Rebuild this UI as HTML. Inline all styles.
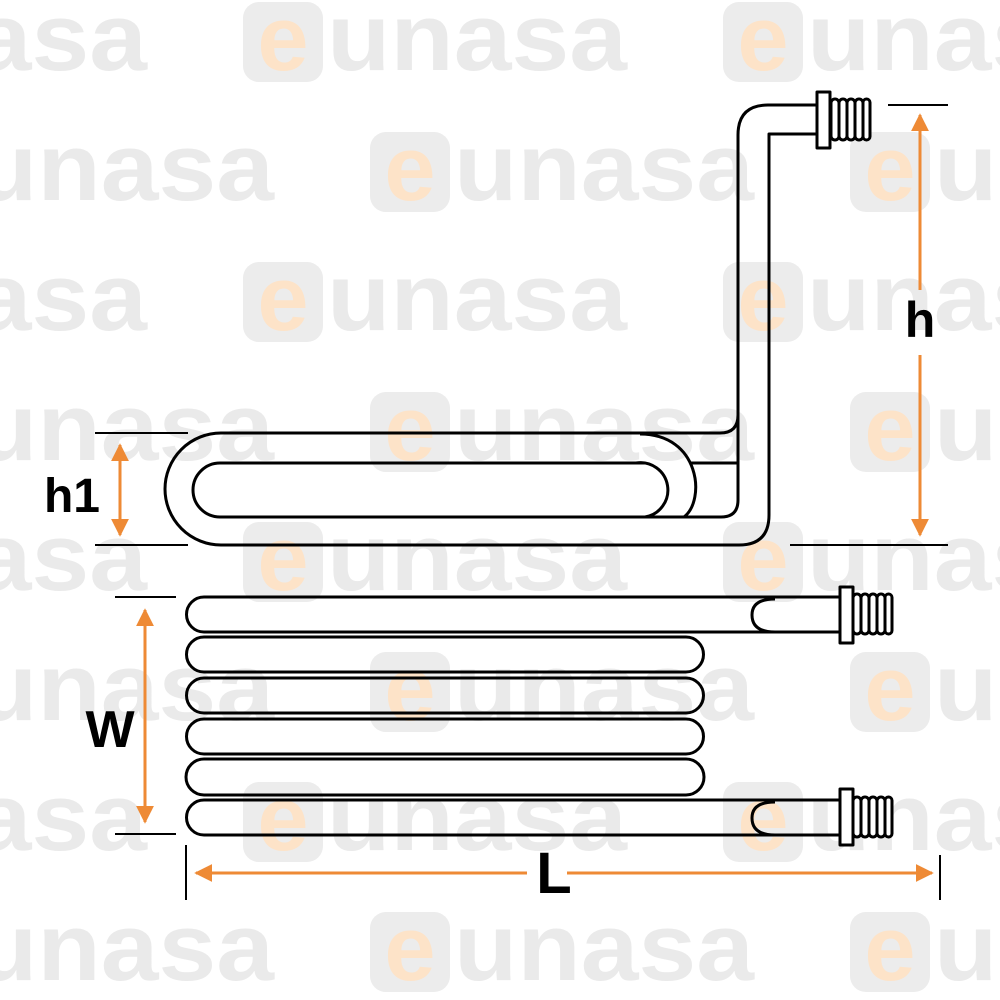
<!DOCTYPE html>
<html><head><meta charset="utf-8"><style>
html,body{margin:0;padding:0;background:#fff}
svg{display:block}
</style></head><body>
<svg width="1000" height="1000" viewBox="0 0 1000 1000" xmlns="http://www.w3.org/2000/svg">
<defs>
<g id="wm">
<rect x="0" y="0" width="80" height="80" rx="16" fill="#ececec"/>
<text x="40" y="68" text-anchor="middle" font-family="Liberation Sans, sans-serif" font-weight="bold" font-size="92" fill="#fde3c8">e</text>
<text x="84" y="68" font-family="Liberation Sans, sans-serif" font-weight="bold" font-size="96" fill="#eaeaea" textLength="300" lengthAdjust="spacingAndGlyphs">unasa</text>
</g>
<marker id="ar" viewBox="0 0 10 10" refX="9" refY="5" markerWidth="6" markerHeight="6" orient="auto-start-reverse"><path d="M0,0 L10,5 L0,10 z" fill="#ee8a35"/></marker>
</defs>
<g>
<use href="#wm" x="-237" y="2"/><use href="#wm" x="243" y="2"/><use href="#wm" x="723" y="2"/>
<use href="#wm" x="-110" y="132"/><use href="#wm" x="370" y="132"/><use href="#wm" x="850" y="132"/>
<use href="#wm" x="-237" y="262"/><use href="#wm" x="243" y="262"/><use href="#wm" x="723" y="262"/>
<use href="#wm" x="-110" y="392"/><use href="#wm" x="370" y="392"/><use href="#wm" x="850" y="392"/>
<use href="#wm" x="-237" y="522"/><use href="#wm" x="243" y="522"/><use href="#wm" x="723" y="522"/>
<use href="#wm" x="-110" y="652"/><use href="#wm" x="370" y="652"/><use href="#wm" x="850" y="652"/>
<use href="#wm" x="-237" y="782"/><use href="#wm" x="243" y="782"/><use href="#wm" x="723" y="782"/>
<use href="#wm" x="-110" y="912"/><use href="#wm" x="370" y="912"/><use href="#wm" x="850" y="912"/>
</g>

<g fill="none" stroke="#000" stroke-width="3" stroke-linejoin="round">
<path d="M818,105 H768 Q738,105 738,135 V500 Q738,517 721,517 H220"/>
<path d="M818,134 H769 V515 Q769,545 739,545 H221 A56,56 0 0 1 221,433 H720 Q738,433 738,415"/>
<path d="M645,463 H220 A27,27 0 0 0 220,517"/>
<path d="M636,463 A27,27 0 0 1 645,517"/>
<path d="M640,434 C700,434 706,500 684,517"/>
<path d="M690,463 H738"/>
<rect x="817" y="92" width="13" height="56" fill="#fff"/>
<rect x="831" y="99" width="8" height="41" rx="4" fill="#fff"/>
<rect x="839" y="99" width="8" height="41" rx="4" fill="#fff"/>
<rect x="847" y="99" width="8" height="41" rx="4" fill="#fff"/>
<rect x="855" y="99" width="8" height="41" rx="4" fill="#fff"/>
<rect x="863" y="99" width="7" height="41" rx="3.5" fill="#fff"/>

<path d="M840,597 H204 A17.5,17.5 0 0 0 204,632 H840"/>
<path d="M775,599 Q752,599 752,615 Q752,632 775,632"/>
<path d="M686,637 H204 A17.5,17.5 0 0 0 204,672 H686 A17.5,17.5 0 0 0 686,637 Z"/>
<path d="M686,678 H204 A17.5,17.5 0 0 0 204,713 H686 A17.5,17.5 0 0 0 686,678 Z"/>
<path d="M686,719 H204 A17.5,17.5 0 0 0 204,754 H686 A17.5,17.5 0 0 0 686,719 Z"/>
<path d="M686,759 H204 A17.5,17.5 0 0 0 204,795 H686 A17.5,17.5 0 0 0 686,759 Z"/>
<path d="M840,800 H204 A17.5,17.5 0 0 0 204,835 H840"/>
<path d="M775,802 Q752,802 752,818 Q752,835 775,835"/>
<rect x="840" y="587" width="13" height="56" fill="#fff"/>
<rect x="853" y="594" width="8" height="40" rx="4" fill="#fff"/>
<rect x="861" y="594" width="8" height="40" rx="4" fill="#fff"/>
<rect x="869" y="594" width="8" height="40" rx="4" fill="#fff"/>
<rect x="877" y="594" width="8" height="40" rx="4" fill="#fff"/>
<rect x="885" y="594" width="7" height="40" rx="3.5" fill="#fff"/>
<rect x="840" y="789" width="13" height="56" fill="#fff"/>
<rect x="853" y="797" width="8" height="40" rx="4" fill="#fff"/>
<rect x="861" y="797" width="8" height="40" rx="4" fill="#fff"/>
<rect x="869" y="797" width="8" height="40" rx="4" fill="#fff"/>
<rect x="877" y="797" width="8" height="40" rx="4" fill="#fff"/>
<rect x="885" y="797" width="7" height="40" rx="3.5" fill="#fff"/>
</g>

<g stroke="#000" stroke-width="2">
<line x1="888" y1="105" x2="948" y2="105"/>
<line x1="790" y1="545" x2="948" y2="545"/>
<line x1="95" y1="433" x2="188" y2="433"/>
<line x1="95" y1="545" x2="188" y2="545"/>
<line x1="115" y1="597" x2="176" y2="597"/>
<line x1="115" y1="834" x2="176" y2="834"/>
<line x1="186" y1="845" x2="186" y2="900"/>
<line x1="940" y1="855" x2="940" y2="900"/>
</g>
<g stroke="#ee8a35" stroke-width="3" fill="none">
<line x1="920" y1="115" x2="920" y2="290" marker-start="url(#ar)"/>
<line x1="920" y1="355" x2="920" y2="535" marker-end="url(#ar)"/>
<line x1="120" y1="445" x2="120" y2="535" marker-start="url(#ar)" marker-end="url(#ar)"/>
<line x1="145" y1="610" x2="145" y2="822" marker-start="url(#ar)" marker-end="url(#ar)"/>
<line x1="196" y1="873" x2="527" y2="873" marker-start="url(#ar)"/>
<line x1="567" y1="873" x2="932" y2="873" marker-end="url(#ar)"/>
</g>
<g font-family="Liberation Sans, sans-serif" font-weight="bold" fill="#000">
<text x="920" y="337" text-anchor="middle" font-size="50">h</text>
<text x="72" y="512" text-anchor="middle" font-size="48">h1</text>
<text x="110" y="747" text-anchor="middle" font-size="52">W</text>
<text x="554" y="893" text-anchor="middle" font-size="58">L</text>
</g>
</svg>
</body></html>
